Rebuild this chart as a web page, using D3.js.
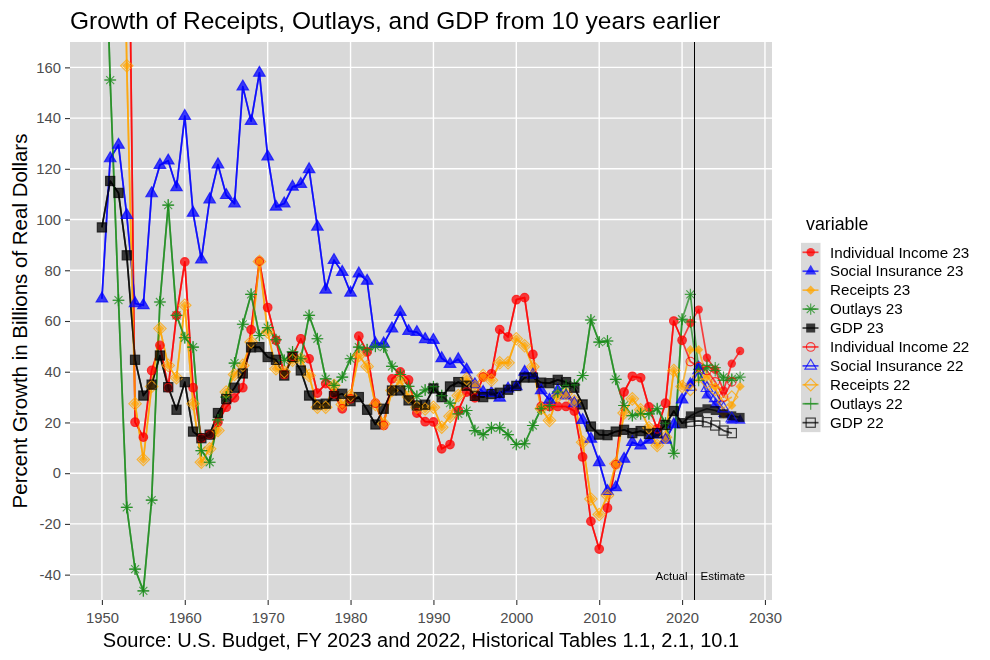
<!DOCTYPE html>
<html><head><meta charset="utf-8">
<script src="https://cdn.jsdelivr.net/npm/d3@7"></script>
<style>
body{margin:0;background:#fff}
svg{display:block}
text{font-family:"Liberation Sans",Arial,Helvetica,sans-serif}
</style>
</head><body>
<svg id="chart" width="990" height="660"></svg>
<script>
// ---------------- DATA ----------------
const years = d3.range(1950, 2028);            // FY2023 budget: 1950-2027
const years22 = d3.range(1950, 2027);          // FY2022 budget: 1950-2026
const xTicks = [1950,1960,1970,1980,1990,2000,2010,2020,2030];
const yTicks = [-40,-20,0,20,40,60,80,100,120,140,160];

const individualIncome23 = [
  900,650,450,300,20.1,14.2,40.5,50.4,33.7,62.2,
  83.3,33.7,13.8,15.2,20.1,26.0,29.7,33.7,56.6,83.6,
  65.3,52.4,38.9,46.1,53.0,45.1,31.6,35.3,31.3,25.4,
  29.3,54.0,47.8,27.6,18.8,37.2,39.9,36.8,23.7,20.3,
  20.2,9.6,11.3,24.7,32.0,29.7,37.9,39.2,56.6,53.7,
  68.4,69.2,46.8,26.3,26.3,26.3,26.3,24.5,6.4,-19.0,
  -29.9,-13.7,3.4,32.0,38.2,37.6,26.1,17.5,27.6,60.0,
  52.4,59.2,64.5,45.5,40.8,32.6,43.2,48.2];
const socialInsurance23 = [
  68.8,124.1,129.4,101.7,66.9,66.2,110.3,121.5,123.2,112.7,
  140.8,102.6,84.2,107.9,121.7,109.6,106.3,152.4,138.8,157.8,
  124.8,105.0,106.3,112.9,114.0,119.8,97.1,72.3,84.0,79.3,
  71.1,78.7,75.8,51.1,51.1,57.0,63.5,56.0,55.6,52.8,
  52.5,45.3,43.0,44.9,40.8,35.0,32.0,31.6,29.7,33.3,
  34.2,39.9,38.8,32.6,28.9,32.6,30.6,27.5,20.9,13.5,
  4.3,-7.1,-5.6,5.6,12.2,10.9,13.1,15.2,13.1,19.2,
  29.0,35.5,42.1,30.7,27.1,23.4,20.8,20.8];
const receipts23 = [
  600,480,360,160.6,27.4,5.4,34.2,57.0,42.5,37.6,
  66.2,27.4,4.3,9.6,16.8,32.0,38.9,42.5,51.7,83.5,
  55.7,41.2,40.0,44.5,45.0,38.5,26.0,26.0,34.6,27.1,
  30.6,46.4,42.1,27.1,19.5,32.6,36.6,30.0,26.0,25.3,
  26.0,18.1,22.4,30.6,37.2,34.2,38.5,36.6,43.5,43.5,
  53.0,50.2,42.0,25.5,20.8,30.3,31.3,28.4,12.2,-10.2,
  -16.3,-8.8,3.7,23.7,29.3,25.0,17.9,10.9,14.2,40.5,
  34.2,48.7,48.7,38.0,34.0,23.4,26.7,34.2];
const outlays23 = [
  260,155.0,68.2,-13.5,-37.8,-46.4,-10.6,67.5,105.7,62.2,
  53.4,49.7,8.9,4.3,21.0,30.0,43.4,58.7,70.5,54.3,
  57.4,52.6,44.5,47.8,45.1,62.2,53.0,37.2,34.6,37.9,
  45.1,49.7,48.7,50.0,49.7,42.1,38.9,34.2,30.3,32.8,
  34.1,30.6,27.6,23.4,24.7,16.8,15.2,17.9,17.9,15.2,
  11.3,11.6,18.8,25.4,26.7,32.0,34.6,34.8,38.5,60.4,
  51.7,52.1,37.0,26.7,22.7,23.4,23.4,25.4,19.7,7.8,
  60.7,70.5,40.8,41.6,41.6,37.9,37.2,37.9];
const gdp23 = [
  96.9,115.2,110.5,85.9,44.7,30.6,34.9,46.4,33.9,25.0,
  35.9,16.4,13.8,15.2,23.7,29.2,33.7,39.3,49.6,49.7,
  45.8,44.7,38.5,45.8,40.5,30.6,27.1,27.4,30.4,31.3,
  28.4,30.0,25.0,19.2,25.4,32.6,32.6,28.7,26.7,27.0,
  33.4,30.0,34.2,35.9,34.5,30.5,30.0,31.2,31.7,32.9,
  34.4,37.7,37.7,35.7,35.5,36.8,35.9,33.7,27.1,18.4,
  15.2,15.0,16.4,17.1,15.8,16.6,15.5,15.8,19.0,24.5,
  19.7,22.6,24.2,25.4,24.7,23.4,22.6,22.0];

// FY2022 budget: history through 2020 matches the FY2023 tables; estimates 2021-2026
const individualIncome22Est = [44.0,42.0,40.5,36.0,30.0,36.0];
const socialInsurance22Est  = [34.0,40.5,33.5,29.5,25.5,21.5];
const receipts22Est         = [33.0,38.0,36.0,33.0,28.0,30.0];
const outlays22Est          = [59.6,36.6,42.5,40.5,36.6,36.6];
const gdp22Est              = [20.3,20.6,20.1,18.8,16.8,15.8];

const seriesNames = ["Individual Income 23","Social Insurance 23","Receipts 23","Outlays 23","GDP 23",
                     "Individual Income 22","Social Insurance 22","Receipts 22","Outlays 22","GDP 22"];
const seriesColors = ["#FF0000","#0000FF","#FFA500","#1C8C1C","#000000",
                      "#FF0000","#0000FF","#FFA500","#1C8C1C","#000000"];
const seriesShapes = ["circleF","triF","diaF","aster","sqF","circleO","triO","diaO","plus","sqO"];

const hist = a => a.slice(0, 71); // 1950-2020
const seriesValues = [
  individualIncome23, socialInsurance23, receipts23, outlays23, gdp23,
  hist(individualIncome23).concat(individualIncome22Est),
  hist(socialInsurance23).concat(socialInsurance22Est),
  hist(receipts23).concat(receipts22Est),
  hist(outlays23).concat(outlays22Est),
  hist(gdp23).concat(gdp22Est)
];
const splitYear = 2021.5;

// ---------------- LAYOUT ----------------
const svg = d3.select("#chart");
const P = {l:70, r:772, t:42, b:600};
const x = d3.scaleLinear().domain([1946.15, 2030.85]).range([P.l, P.r]);
const y = d3.scaleLinear().domain([-50, 170]).range([P.b, P.t]);

svg.append("rect").attr("x",P.l).attr("y",P.t).attr("width",P.r-P.l).attr("height",P.b-P.t).attr("fill","#D9D9D9");

// grid
const grid = svg.append("g");
grid.selectAll(".gx").data(xTicks).join("line")
  .attr("x1",d=>x(d)).attr("x2",d=>x(d)).attr("y1",P.t).attr("y2",P.b)
  .attr("stroke","#fff").attr("stroke-width",1.4);
grid.selectAll(".gy").data(yTicks).join("line")
  .attr("y1",d=>y(d)).attr("y2",d=>y(d)).attr("x1",P.l).attr("x2",P.r)
  .attr("stroke","#fff").attr("stroke-width",1.4);

// axes
const plain = d => String(d);
const xAxis = svg.append("g").attr("transform",`translate(0,${P.b})`)
  .call(d3.axisBottom(x).tickValues(xTicks).tickFormat(plain).tickSize(5).tickPadding(7));
const yAxis = svg.append("g").attr("transform",`translate(${P.l},0)`)
  .call(d3.axisLeft(y).tickValues(yTicks).tickFormat(plain).tickSize(5).tickPadding(4));
[xAxis,yAxis].forEach(a=>{
  a.select(".domain").remove();
  a.selectAll(".tick line").attr("stroke","#333").attr("stroke-width",1.1);
  a.selectAll(".tick text").attr("fill","#4D4D4D").style("font-size","14.8px")
   .style("font-family","'Liberation Sans',Arial,sans-serif");
});

// clip
svg.append("clipPath").attr("id","clip").append("rect")
  .attr("x",P.l).attr("y",P.t).attr("width",P.r-P.l).attr("height",P.b-P.t);
const plot = svg.append("g").attr("clip-path","url(#clip)");

function symbol(g, s, color){
  let el;
  const filled = ["circleF","triF","diaF","sqF"].includes(s);
  if(s==="circleF") el = g.append("circle").attr("r",4.2);
  else if(s==="circleO") el = g.append("circle").attr("r",4.3);
  else if(s==="triF") el = g.append("path").attr("d","M0,-6.4L5.6,3.2L-5.6,3.2Z");
  else if(s==="triO") el = g.append("path").attr("d","M0,-6.6L5.8,3.3L-5.8,3.3Z");
  else if(s==="diaF") el = g.append("path").attr("d","M0,-4.6L4.6,0L0,4.6L-4.6,0Z");
  else if(s==="diaO") el = g.append("path").attr("d","M0,-6.2L6.2,0L0,6.2L-6.2,0Z");
  else if(s==="sqF") el = g.append("rect").attr("x",-4.5).attr("y",-4.5).attr("width",9).attr("height",9);
  else if(s==="sqO") el = g.append("rect").attr("x",-4.6).attr("y",-4.6).attr("width",9.2).attr("height",9.2);
  else if(s==="aster") el = g.append("path").attr("d","M-5.6,0H5.6M0,-5.6V5.6M-4,-4L4,4M-4,4L4,-4");
  else if(s==="plus") el = g.append("path").attr("d","M-6,0H6M0,-6V6");
  if(filled) el.attr("fill",color).attr("stroke","none");
  else el.attr("fill","none").attr("stroke",color).attr("stroke-width",1.15);
  return el;
}

const line = d3.line().x(d=>x(d[0])).y(d=>y(d[1]));
const seriesData = seriesValues.map((vals,i)=>{
  const yrs = i<5 ? years : years22;
  return vals.map((v,j)=>[yrs[j], v]);
});

// lines (all groups), then points (all groups)
seriesData.forEach((pts,i)=>{
  plot.append("path").datum(pts).attr("d",line)
    .attr("fill","none").attr("stroke",seriesColors[i]).attr("stroke-width",1.7)
    .attr("stroke-opacity",0.72).attr("stroke-linejoin","round");
});
seriesData.forEach((pts,i)=>{
  const g = plot.append("g").attr("opacity",0.75);
  pts.forEach(p=>{
    const gg = g.append("g").attr("transform",`translate(${x(p[0])},${y(p[1])})`);
    symbol(gg, seriesShapes[i], seriesColors[i]);
  });
});

// actual / estimate divider
svg.append("line").attr("x1",x(splitYear)).attr("x2",x(splitYear)).attr("y1",P.t).attr("y2",P.b)
  .attr("stroke","#000").attr("stroke-width",1);
svg.append("text").attr("x",x(splitYear)-7).attr("y",580).attr("text-anchor","end")
  .style("font-size","11.5px").text("Actual");
svg.append("text").attr("x",x(splitYear)+6).attr("y",580).attr("text-anchor","start")
  .style("font-size","11.5px").text("Estimate");

// titles
svg.append("text").attr("x",P.l).attr("y",29).style("font-size","24.5px").attr("fill","#000")
  .text("Growth of Receipts, Outlays, and GDP from 10 years earlier");
svg.append("text").attr("transform",`translate(26.5,${(P.t+P.b)/2}) rotate(-90)`).attr("text-anchor","middle")
  .style("font-size","20.5px").attr("fill","#000").text("Percent Growth in Billions of Real Dollars");
svg.append("text").attr("x",(P.l+P.r)/2).attr("y",646.5).attr("text-anchor","middle")
  .style("font-size","20px").attr("fill","#000")
  .text("Source: U.S. Budget, FY 2023 and 2022, Historical Tables 1.1, 2.1, 10.1");

// legend
const L = svg.append("g");
L.append("text").attr("x",806).attr("y",230).style("font-size","17.8px").text("variable");
const rowH = 18.93, row0 = 252.3;
L.append("rect").attr("x",801).attr("y",row0-rowH/2).attr("width",19.5).attr("height",rowH*seriesNames.length)
  .attr("fill","#D9D9D9");
seriesNames.forEach((n,i)=>{
  const cy = row0 + i*rowH;
  L.append("line").attr("x1",802.5).attr("x2",818.5).attr("y1",cy).attr("y2",cy)
    .attr("stroke",seriesColors[i]).attr("stroke-width",1.7).attr("stroke-opacity",0.72);
  const g = L.append("g").attr("opacity",0.75).attr("transform",`translate(810.7,${cy})`);
  symbol(g, seriesShapes[i], seriesColors[i]);
  L.append("text").attr("x",830).attr("y",cy+5.2).style("font-size","15.2px").text(n);
});
</script>
</body></html>
